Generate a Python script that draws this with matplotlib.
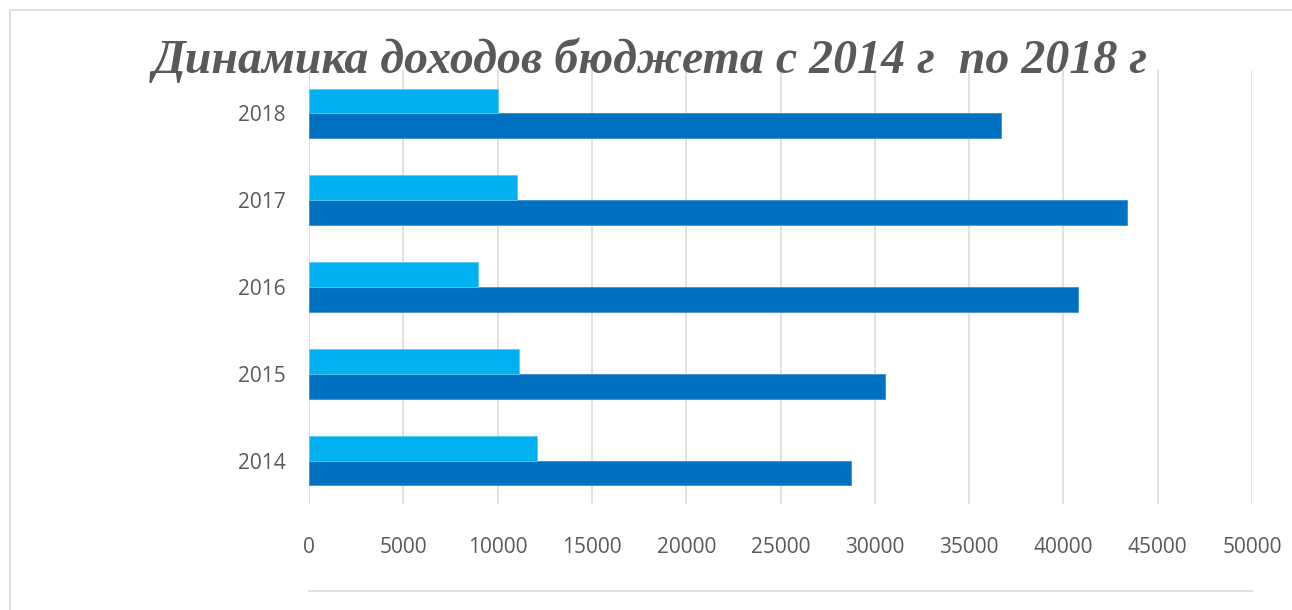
import matplotlib
matplotlib.use("Agg")
import matplotlib.pyplot as plt
from matplotlib.patches import Rectangle
from matplotlib.lines import Line2D
import numpy as np

years = ["2014", "2015", "2016", "2017", "2018"]
dark_values = [28750, 30550, 40800, 43370, 36700]
light_values = [12100, 11150, 8950, 11050, 10000]
x_ticks = [0, 5000, 10000, 15000, 20000, 25000, 30000, 35000, 40000, 45000, 50000]
title = "Динамика доходов бюджета с 2014 г  по 2018 г"

W, H = 1292, 610
fig = plt.figure(figsize=(W / 100, H / 100), dpi=100)
ax = fig.add_axes([309 / W, 1 - 504 / H, (1252 - 309) / W, (504 - 70) / H])

y = np.arange(len(years))
h = 0.286
ax.barh(y - h / 2, dark_values, height=h, color="#0070C0", edgecolor="#3a8fd0", linewidth=0.6, zorder=3)
ax.barh(y + h / 2, light_values, height=h, color="#00B0F0", edgecolor="#5cc8f2", linewidth=0.6, zorder=3)

ax.set_xlim(0, 50000)
ax.set_ylim(-0.5, 4.5)
ax.set_xticks(x_ticks)
ax.set_xticklabels([str(t) for t in x_ticks])
ax.set_yticks(y)
ax.set_yticklabels(years)
ax.grid(axis="x", color="#D9D9D9", linewidth=1.1, zorder=0)
ax.set_axisbelow(True)
for s in ax.spines.values():
    s.set_visible(False)
ax.tick_params(axis="both", length=0, colors="#595959", labelsize=15)
ax.tick_params(axis="x", pad=24)
ax.tick_params(axis="y", pad=17)
for lab in ax.get_xticklabels() + ax.get_yticklabels():
    lab.set_fontfamily("Open Sans")

fig.text(650 / W, 1 - 73 / H, title, ha="center", va="baseline",
         fontsize=34.5, fontfamily="Liberation Serif", fontweight="bold",
         fontstyle="italic", color="#595959")

# outer chart frame
fig.add_artist(Rectangle((10 / W, -0.05), 1.2, 1 - 10 / H + 0.05, transform=fig.transFigure,
                         fill=False, edgecolor="#D9D9D9", linewidth=1.2))
# empty legend line
fig.add_artist(Line2D([309 / W, 1252 / W], [1 - 591 / H, 1 - 591 / H], transform=fig.transFigure,
                      color="#D9D9D9", linewidth=1.2))

fig.savefig("out.png", dpi=100, facecolor="white")
